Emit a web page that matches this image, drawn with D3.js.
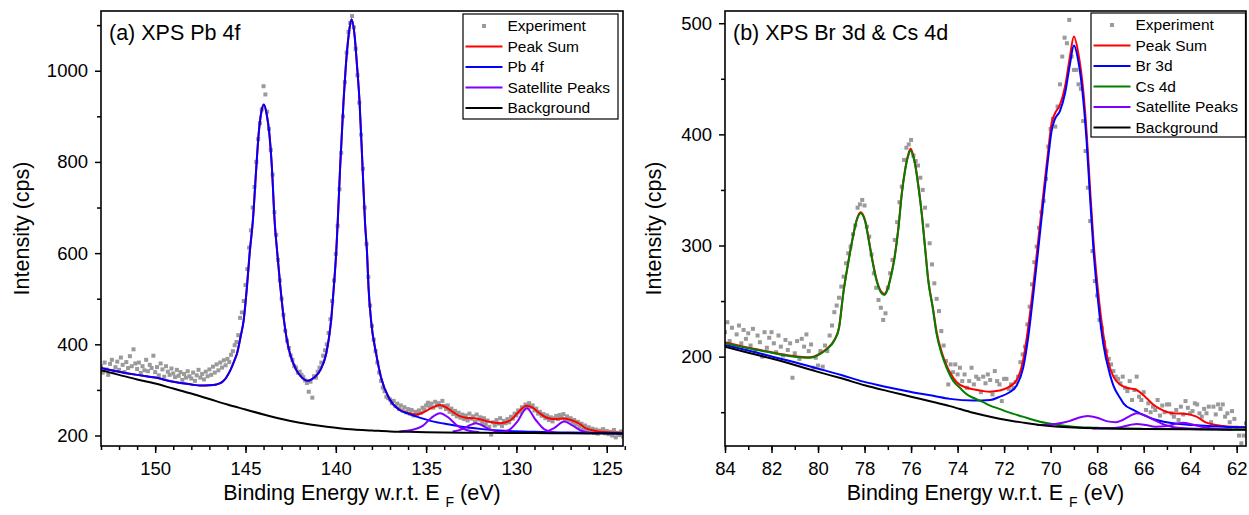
<!DOCTYPE html>
<html>
<head>
<meta charset="utf-8">
<script src="https://cdn.jsdelivr.net/npm/d3@7"></script>
<style>
  body { margin: 0; background: #fff; }
  svg text { font-family: "Liberation Sans", Arial, sans-serif; fill: #000; }
</style>
</head>
<body>
<svg id="chart" width="1249" height="515"></svg>
<script>
// ---------- panel (a): Pb 4f ----------
// measured points, energy grid starts at 153 eV and steps down by 0.1 eV
var pbStart = 153, pbStep = 0.1;
var pbExperiment = [
  352, 338, 360, 345, 333, 357, 366, 340, 350, 362,
  344, 371, 355, 339, 361, 348, 374, 352, 389, 358,
  346, 360, 337, 352, 343, 366, 341, 355, 348, 375,
  339, 350, 332, 358, 345, 329, 352, 340, 333, 347,
  336, 328, 344, 331, 339, 322, 335, 327, 341, 330,
  325, 338, 320, 332, 344, 327, 335, 323, 340, 330,
  345, 333, 351, 338, 356, 343, 360, 349, 365, 354,
  368, 361, 377, 385, 398, 405, 420, 458, 470, 495,
  530, 565, 612, 650, 700, 745, 800, 850, 885, 915,
  966, 948, 910, 872, 826, 772, 690, 640, 585, 540,
  500, 465, 430, 408, 392, 376, 366, 352, 349, 338,
  340, 333, 328, 321, 315, 296, 318, 283, 330, 327,
  340, 349, 360, 375, 387, 400, 425, 455, 495, 540,
  598, 660, 740, 820, 900, 975, 1040, 1085, 1105, 1120,
  1095, 1048, 990, 930, 860, 785, 700, 620, 548, 485,
  440, 410, 385, 360, 338, 320, 305, 297, 285, 282,
  279, 271, 276, 265, 270, 259, 266, 255, 262, 251,
  258, 248, 256, 244, 252, 247, 255, 250, 261, 257,
  266, 272, 263, 270, 261, 274, 266, 271, 262, 276,
  265, 258, 266, 252, 259, 247, 254, 242, 250, 239,
  246, 236, 244, 233, 248, 237, 242, 230, 246, 235,
  240, 228, 238, 225, 233, 219, 202, 229, 222, 234,
  226, 238, 221, 232, 227, 236, 229, 241, 237, 248,
  244, 255, 251, 262, 258, 268, 263, 271, 262, 266,
  255, 259, 248, 252, 243, 247, 238, 244, 234, 240,
  231, 238, 243, 236, 245, 239, 247, 236, 242, 233,
  238, 228, 234, 224, 230, 219, 226, 214, 222, 211,
  218, 209, 215, 206, 213, 204, 211, 208, 214, 205,
  210, 203, 208, 200, 212, 196, 206, 201, 209, 198,
  207
];

// Pb 4f doublet on top of the background  [eV, cps]
var pbFit = [
  [153, 348], [152, 340], [151, 333], [150, 327], [149, 318], [148, 312], [147.5, 309.5],
  [147, 310], [146.6, 312], [146.3, 317], [146.1, 325], [145.83, 344], [145.6, 366],
  [145.47, 380], [145.27, 417], [145.1, 453], [144.92, 526], [144.77, 600], [144.59, 672],
  [144.4, 789], [144.27, 862], [144.12, 910], [143.98, 926], [143.83, 905], [143.68, 862],
  [143.54, 789], [143.39, 672], [143.24, 600], [143.07, 526], [142.87, 453], [142.74, 417],
  [142.54, 380], [142.19, 344], [141.9, 328], [141.55, 320], [141.2, 327], [140.85, 344],
  [140.53, 380], [140.37, 417], [140.26, 453], [140.11, 526], [139.98, 600], [139.89, 672],
  [139.76, 789], [139.57, 935], [139.45, 1008], [139.28, 1081], [139.13, 1113], [138.97, 1081],
  [138.82, 1008], [138.69, 935], [138.52, 789], [138.38, 665], [138.27, 600], [138.19, 526],
  [138.05, 453], [137.77, 380], [137.5, 328], [137.03, 280], [136.48, 256], [136, 248],
  [135.56, 242], [134.64, 231], [133.7, 224], [132.8, 218], [131.9, 214], [130.96, 211],
  [129, 208], [127.27, 206.6], [126, 205.8], [124, 205]
];
// peak sum below 137 eV, where the satellites lift it off the Pb 4f curve
var pbSumTail = [
  [136.48, 257], [135.93, 249], [135.56, 246], [135.19, 250], [134.82, 258], [134.5, 264],
  [134.23, 267], [133.9, 262], [133.53, 252], [133.17, 243], [132.8, 239], [132.5, 238],
  [132.24, 237.5], [131.88, 234], [131.51, 230], [130.96, 227], [130.59, 229], [130.2, 238],
  [129.9, 251], [129.43, 265], [129.1, 261], [128.75, 250], [128.38, 240], [127.92, 236],
  [127.36, 237.5], [126.9, 233], [126.44, 224], [126.17, 216], [125.61, 210], [124.88, 207],
  [124, 206]
];
var pbSat1 = [[136.48, 209], [135.74, 212.5], [135.19, 221], [134.73, 238], [134.23, 249],
  [133.72, 238], [133.26, 221], [132.8, 212.5], [132.06, 207]];
var pbSat2 = [[133.53, 209], [132.98, 214], [132.61, 222], [132.24, 227], [131.88, 222],
  [131.51, 214], [130.96, 207]];
var pbSat3 = [[130.96, 207], [130.4, 212.5], [129.94, 231], [129.43, 260], [128.93, 234],
  [128.47, 214], [127.92, 207]];
var pbSat4 = [[128.38, 207], [127.92, 216], [127.36, 231], [126.9, 222], [126.44, 211],
  [125.98, 206]];
var pbBackground = [
  [153, 343], [152, 333], [151, 323], [150, 314], [149, 303], [148, 292], [147, 280],
  [146, 268], [145, 257], [144, 246], [143, 236], [142, 228], [141, 222], [140, 217],
  [139, 213], [138, 211], [137, 209], [136, 208], [135, 207], [134, 206.5], [132, 206],
  [130, 205.5], [128, 205], [126, 204.5], [124, 204]
];
var pbXTicks = [150, 145, 140, 135, 130, 125];
var pbXMinor = d3.range(124, 154, 1);
var pbYTicks = [200, 400, 600, 800, 1000];
var pbYMinor = [300, 500, 700, 900, 1100];

// ---------- panel (b): Br 3d & Cs 4d ----------
var brStart = 84, brStep = 0.1;
var brExperiment = [
  222,
  231, 214, 226, 209, 220, 228, 212, 224, 216, 221,
  210, 225, 206, 219, 213, 200, 222, 208, 217, 222,
  212, 204, 219, 209, 201, 215, 206, 212, 181, 203,
  214, 198, 216, 209, 220, 205, 211, 190, 199, 192,
  205, 191, 210, 205, 219, 228, 240, 246, 253, 263,
  272, 284, 293, 299, 310, 318, 334, 337, 341, 336,
  317, 308, 292, 275, 262, 251, 244, 233, 239, 262,
  275, 287, 305, 321, 339, 353, 377, 388, 391, 395,
  381, 376, 372, 361, 350, 334, 318, 302, 283, 266,
  252, 241, 223, 210, 196, 175, 193, 186, 193, 184,
  190, 178, 184, 172, 178, 190, 175, 182, 180, 168,
  182, 176, 184, 179, 166, 187, 178, 175, 160, 180,
  180, 171, 175, 172, 177, 182, 195, 202, 209, 229,
  245, 265, 285, 299, 316, 330, 340, 360, 389, 405,
  414, 407, 425, 445, 470, 487, 482, 503, 470, 458,
  458, 445, 441, 412, 385, 352, 322, 295, 268, 255,
  233, 226, 213, 205, 198, 193, 187, 182, 180, 176,
  182, 172, 169, 178, 161, 170, 182, 164, 161, 168,
  152, 158, 150, 155, 152, 161, 147, 156, 150, 157,
  157, 149, 146, 152, 143, 155, 148, 160, 154, 149,
  151, 158, 157, 149, 146, 153, 149, 155, 141, 155,
  148, 157, 153, 157, 146, 149, 141, 151, 144, 136,
  129, 122, 129, 140
];
var brSum = [
  [84, 213], [83, 208], [82, 204], [81.5, 202], [81, 200.5], [80.5, 199.5], [80.2, 200],
  [79.9, 203], [79.6, 207.5], [79.3, 215], [79.1, 226], [78.91, 258], [78.7, 285], [78.5, 308],
  [78.34, 323], [78.17, 330], [77.98, 323], [77.84, 308], [77.69, 290], [77.48, 269],
  [77.3, 259], [77.15, 256.5], [77.0, 262], [76.91, 269], [76.73, 287], [76.54, 317],
  [76.4, 347], [76.26, 368], [76.12, 382], [76.02, 387], [75.92, 382], [75.83, 374],
  [75.68, 353], [75.54, 329], [75.4, 299], [75.26, 269], [75.07, 245], [74.9, 222],
  [74.68, 204], [74.47, 192], [74.33, 186], [74.04, 177], [73.6, 172], [73.33, 170.6],
  [72.9, 169], [72.61, 168.5], [72.2, 169.5], [71.89, 171.6], [71.46, 179], [71.18, 197],
  [70.96, 227], [70.75, 263], [70.53, 305], [70.31, 347], [70.1, 386], [69.96, 410],
  [69.81, 419], [69.6, 426.5], [69.38, 443], [69.17, 470], [69.0, 488], [68.81, 473],
  [68.6, 440], [68.45, 401], [68.31, 353], [68.16, 305], [67.95, 257], [67.74, 221],
  [67.45, 190], [67.3, 182], [67.02, 175], [66.73, 172], [66.45, 171], [66.3, 170],
  [66.02, 165.5], [65.87, 162.5], [65.59, 157], [65.3, 153], [64.73, 149], [64.16, 148.5],
  [63.73, 146], [63.3, 140.6], [62.58, 137.6], [61.6, 136.5]
];
var brFit = [
  [84, 210.5], [83, 205.5], [82.07, 200.6], [81, 195], [80.06, 189.6], [79, 183.5],
  [78.05, 177.5], [77, 172.5], [76.05, 168.5], [75, 164.5], [74.33, 162], [73.33, 160.5],
  [72.6, 161], [72.18, 164], [71.8, 167.5], [71.46, 174], [71.18, 190], [70.96, 218],
  [70.75, 255], [70.53, 297], [70.31, 340], [70.1, 380], [69.96, 403], [69.81, 414],
  [69.6, 421], [69.38, 437], [69.17, 463], [69.0, 480], [68.81, 466], [68.6, 432],
  [68.45, 393], [68.31, 345], [68.16, 297], [67.95, 248], [67.74, 212], [67.45, 184],
  [67.3, 174], [67.02, 163], [66.87, 158], [66.45, 152], [66.16, 149], [65.44, 143],
  [64.73, 140], [63.87, 138.5], [62.58, 137], [61.6, 136.5]
];
var csFit = [
  [84, 212], [83, 207.5], [82, 203.5], [81.5, 201.5], [81, 200], [80.5, 199], [80.2, 199.5],
  [79.9, 202.5], [79.6, 207], [79.3, 214.5], [79.1, 225.5], [78.91, 257.5], [78.7, 284.5],
  [78.5, 307.5], [78.34, 322.5], [78.17, 329], [77.98, 322], [77.84, 307], [77.69, 289],
  [77.48, 268], [77.3, 258], [77.15, 255.5], [77.0, 261], [76.91, 268], [76.73, 286],
  [76.54, 316], [76.4, 346], [76.26, 367], [76.12, 381], [76.02, 385.5], [75.92, 381],
  [75.83, 373], [75.68, 352], [75.54, 328], [75.4, 298], [75.26, 268], [75.07, 244],
  [74.9, 220], [74.68, 202], [74.47, 190], [74.18, 178], [73.9, 172], [73.6, 166],
  [73.33, 163], [72.9, 159], [72.6, 156], [72.2, 153], [71.89, 150.5], [71.2, 146],
  [70.46, 141.5], [69.8, 139], [69.03, 137], [68, 136], [67.6, 135.6], [66, 135],
  [64, 134.8], [61.6, 134.5]
];
var brSat1 = [[70.6, 138.5], [69.8, 139.5], [69.2, 142], [68.8, 145], [68.4, 146.5],
  [68.0, 145], [67.6, 142], [67.2, 141], [66.9, 143], [66.6, 146.5], [66.3, 149],
  [66.0, 147.5], [65.6, 143.5], [65.2, 139.5], [64.8, 137], [64.2, 135.5], [63.5, 135]];
var brSat2 = [[68.2, 135.3], [67.6, 135.5], [67.0, 136.5], [66.6, 138.5], [66.3, 139.5],
  [65.9, 138.5], [65.5, 137], [65.0, 137.5], [64.6, 139.5], [64.3, 140.5], [63.9, 139],
  [63.4, 136.5], [62.8, 135], [62.2, 134.5]];
var brBackground = [
  [84, 209], [83, 203.5], [82, 198.3], [81, 192.5], [80, 186.3], [79, 180.5], [78, 174.3],
  [77, 169], [76, 164], [75, 159], [74.33, 155.5], [73.33, 149.5], [72.5, 145.5],
  [71.89, 143], [71, 140], [70.46, 138.5], [69.8, 137.2], [69, 136.2], [68, 135.5],
  [66, 135], [64, 134.6], [61.6, 134.2]
];
var brXTicks = [84, 82, 80, 78, 76, 74, 72, 70, 68, 66, 64, 62];
var brXMinor = d3.range(62, 85, 1);
var brYTicks = [200, 300, 400, 500];
var brYMinor = [150, 250, 350, 450];

var legendA = ["Experiment", "Peak Sum", "Pb 4f", "Satellite Peaks", "Background"];
var legendB = ["Experiment", "Peak Sum", "Br 3d", "Cs 4d", "Satellite Peaks", "Background"];

var colors = { sum: "#ff0000", blue: "#0000ff", green: "#008000", sat: "#8000ff", bg: "#000000", dot: "#9a9a9a" };

var svg = d3.select("#chart");
svg.append("rect").attr("width", 1249).attr("height", 515).attr("fill", "#fff");

function drawPanel(p) {
  var x = d3.scaleLinear().domain(p.xDomain).range([p.left, p.right]);
  var y = d3.scaleLinear().domain(p.yDomain).range([p.bottom, p.top]);

  svg.append("clipPath").attr("id", "clip-" + p.id)
    .append("rect")
      .attr("x", p.left).attr("y", p.top)
      .attr("width", p.right - p.left).attr("height", p.bottom - p.top);

  var plot = svg.append("g").attr("clip-path", "url(#clip-" + p.id + ")");

  // experiment: small grey squares
  plot.selectAll("rect.dot")
      .data(p.experiment)
    .enter().append("rect")
      .attr("class", "dot")
      .attr("x", function(d, i) { return x(p.start - i * p.step) - 2; })
      .attr("y", function(d) { return y(d) - 2; })
      .attr("width", 4)
      .attr("height", 4)
      .attr("fill", colors.dot);

  var line = d3.line()
      .x(function(d) { return x(d[0]); })
      .y(function(d) { return y(d[1]); })
      .curve(d3.curveMonotoneX);

  p.curves.forEach(function(c) {
    plot.append("path")
        .datum(c.data)
        .attr("d", line)
        .attr("fill", "none")
        .attr("stroke", c.color)
        .attr("stroke-width", 2)
        .attr("stroke-linejoin", "round");
  });

  // axes: major with labels, minor without
  var xMajor = g => g
      .attr("transform", "translate(0," + p.bottom + ")")
      .call(d3.axisBottom(x).tickValues(p.xTicks).tickSize(7).tickPadding(9).tickFormat(d3.format("d")))
      .call(g => g.select(".domain").remove());
  var xMinor = g => g
      .attr("transform", "translate(0," + p.bottom + ")")
      .call(d3.axisBottom(x).tickValues(p.xMinor).tickSize(4).tickFormat(""))
      .call(g => g.select(".domain").remove());
  var yMajor = g => g
      .attr("transform", "translate(" + p.left + ",0)")
      .call(d3.axisLeft(y).tickValues(p.yTicks).tickSize(6).tickPadding(7).tickFormat(d3.format("d")))
      .call(g => g.select(".domain").remove());
  var yMinor = g => g
      .attr("transform", "translate(" + p.left + ",0)")
      .call(d3.axisLeft(y).tickValues(p.yMinor).tickSize(4).tickFormat(""))
      .call(g => g.select(".domain").remove());

  [xMinor, xMajor, yMinor, yMajor].forEach(function(ax) {
    var g = svg.append("g").call(ax);
    g.selectAll("line").attr("stroke-width", 1.5);
    g.selectAll("text").attr("font-size", 18.5).attr("font-family", "Liberation Sans, Arial, sans-serif");
    g.attr("font-family", null);
  });

  // frame
  svg.append("rect")
      .attr("x", p.left).attr("y", p.top)
      .attr("width", p.right - p.left).attr("height", p.bottom - p.top)
      .attr("fill", "none").attr("stroke", "#000").attr("stroke-width", 1.6);

  // panel title
  svg.append("text")
      .attr("x", p.left + 8).attr("y", p.top + 29)
      .attr("font-size", 21.5)
      .text(p.title);

  // axis titles
  svg.append("text")
      .attr("transform", "translate(" + p.yTitleX + "," + ((p.top + p.bottom) / 2) + ") rotate(-90)")
      .attr("text-anchor", "middle")
      .attr("font-size", 21.5)
      .text("Intensity (cps)");

  var xt = svg.append("text")
      .attr("x", (p.left + p.right) / 2).attr("y", 500)
      .attr("text-anchor", "middle")
      .attr("font-size", 21.5);
  xt.append("tspan").text("Binding Energy w.r.t. E ");
  xt.append("tspan").attr("font-size", 14).attr("dy", 7).text("F");
  xt.append("tspan").attr("dy", -7).text(" (eV)");

  // legend
  var lg = svg.append("g");
  lg.append("rect")
      .attr("x", p.legend.x).attr("y", p.legend.y)
      .attr("width", p.legend.w).attr("height", p.legend.h)
      .attr("fill", "#fff").attr("stroke", "#000").attr("stroke-width", 1.2);
  p.legend.items.forEach(function(name, i) {
    var cy = p.legend.y + 12 + i * 20.5;
    var x0 = p.legend.x + 2.5, x1 = p.legend.x + 39.5;
    if (name === "Experiment") {
      lg.append("rect")
          .attr("x", (x0 + x1) / 2 - 2).attr("y", cy - 2)
          .attr("width", 4).attr("height", 4)
          .attr("fill", colors.dot);
    } else {
      lg.append("line")
          .attr("x1", x0).attr("x2", x1).attr("y1", cy).attr("y2", cy)
          .attr("stroke", p.legend.colors[i]).attr("stroke-width", 2);
    }
    lg.append("text")
        .attr("x", p.legend.x + 44.5).attr("y", cy)
        .attr("dy", "0.35em")
        .attr("font-size", 15.5)
        .text(name);
  });
}

drawPanel({
  id: "a", title: "(a) XPS Pb 4f",
  left: 101, right: 623, top: 11, bottom: 446, yTitleX: 29,
  xDomain: [153, 124.1], yDomain: [177, 1131],
  start: pbStart, step: pbStep, experiment: pbExperiment,
  curves: [
    { data: pbFit.filter(d => d[0] > 137).concat(pbSumTail), color: colors.sum },
    { data: pbFit, color: colors.blue },
    { data: pbSat1, color: colors.sat },
    { data: pbSat2, color: colors.sat },
    { data: pbSat3, color: colors.sat },
    { data: pbSat4, color: colors.sat },
    { data: pbBackground, color: colors.bg }
  ],
  xTicks: pbXTicks, xMinor: pbXMinor, yTicks: pbYTicks, yMinor: pbYMinor,
  legend: { x: 463, y: 14, w: 155, h: 105, items: legendA,
            colors: [colors.dot, colors.sum, colors.blue, colors.sat, colors.bg] }
});

drawPanel({
  id: "b", title: "(b) XPS Br 3d & Cs 4d",
  left: 725, right: 1246, top: 11, bottom: 446, yTitleX: 661,
  xDomain: [84, 61.6], yDomain: [119.6, 511],
  start: brStart, step: brStep, experiment: brExperiment,
  curves: [
    { data: brSum, color: colors.sum },
    { data: brFit, color: colors.blue },
    { data: csFit, color: colors.green },
    { data: brSat1, color: colors.sat },
    { data: brSat2, color: colors.sat },
    { data: brBackground, color: colors.bg }
  ],
  xTicks: brXTicks, xMinor: brXMinor, yTicks: brYTicks, yMinor: brYMinor,
  legend: { x: 1091, y: 13, w: 154.5, h: 124, items: legendB,
            colors: [colors.dot, colors.sum, colors.blue, colors.green, colors.sat, colors.bg] }
});
</script>
</body>
</html>
